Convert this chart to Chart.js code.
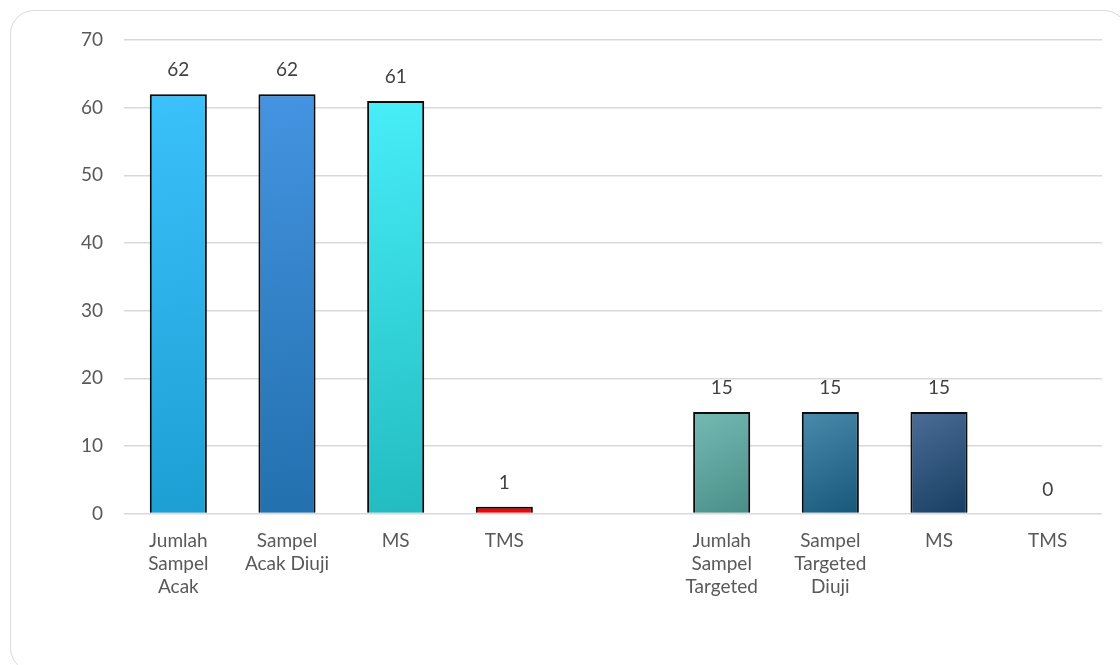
<!DOCTYPE html>
<html>
<head>
<meta charset="utf-8">
<script src="https://cdn.jsdelivr.net/npm/chart.js@4.4.1/dist/chart.umd.min.js"></script>
<style>
  html, body { margin: 0; padding: 0; background: #ffffff; overflow: hidden; }
  #wrap { position: relative; width: 1120px; height: 665px; }
  #frame { position: absolute; left: 10px; top: 10px; width: 1118px; height: 662px;
           border: 1.5px solid #d9d9d9; border-radius: 24px; box-sizing: border-box; }
  canvas { position: absolute; left: 0; top: 0; }
</style>
</head>
<body>
<div id="wrap">
  <div id="frame"></div>
  <canvas id="c" width="1120" height="665"></canvas>
</div>
<script>
const categories = [
  ['Jumlah', 'Sampel', 'Acak'],
  ['Sampel', 'Acak Diuji'],
  'MS',
  'TMS',
  '',
  ['Jumlah', 'Sampel', 'Targeted'],
  ['Sampel', 'Targeted', 'Diuji'],
  'MS',
  'TMS'
];
const values = [62, 62, 61, 1, null, 15, 15, 15, 0];
const yTicks = [0, 10, 20, 30, 40, 50, 60, 70];
const colorTop = ['#3bc1fb', '#4494e2', '#47edf8', '#ff0000', '#ffffff', '#74bab3', '#4a8aab', '#4b6c97', '#ffffff'];
const colorBottom = ['#1c9fd3', '#2270ad', '#22bcc0', '#ff0000', '#ffffff', '#4b8e89', '#17587a', '#173f62', '#ffffff'];

const FONT = 'Lato, "Open Sans", sans-serif';

const barEffects = {
  id: 'barEffects',
  beforeDatasetsDraw(chart) {
    const ctx = chart.ctx;
    ctx.save();
    ctx.shadowColor = 'rgba(0,0,0,0.28)';
    ctx.shadowBlur = 7;
    ctx.shadowOffsetX = 0;
    ctx.shadowOffsetY = 0;
  },
  afterDatasetsDraw(chart) {
    const ctx = chart.ctx;
    ctx.restore();
    ctx.save();
    ctx.fillStyle = '#404040';
    ctx.font = '19px ' + FONT;
    ctx.textAlign = 'center';
    ctx.textBaseline = 'middle';
    const meta = chart.getDatasetMeta(0);
    meta.data.forEach((bar, i) => {
      const v = values[i];
      if (v === null || v === undefined) return;
      ctx.fillText(String(v), bar.x, bar.y - 24);
    });
    ctx.restore();
  }
};

new Chart(document.getElementById('c'), {
  type: 'bar',
  data: {
    labels: categories,
    datasets: [{
      data: values,
      backgroundColor(context) {
        const chart = context.chart;
        const i = context.dataIndex;
        const v = context.raw;
        if (!chart.chartArea || !chart.scales.y || v === null) return colorTop[i];
        const yTop = chart.scales.y.getPixelForValue(v);
        const yBot = chart.scales.y.getPixelForValue(0);
        const xc = chart.scales.x.getPixelForValue(i);
        const g = chart.ctx.createLinearGradient(xc - 28, yTop, xc + 28, yBot);
        g.addColorStop(0, colorTop[i]);
        g.addColorStop(1, colorBottom[i]);
        return g;
      },
      borderColor: '#0d0d0d',
      borderWidth: 2,
      borderSkipped: 'start',
      categoryPercentage: 1,
      barPercentage: 0.525
    }]
  },
  options: {
    responsive: false,
    animation: false,
    layout: { padding: { left: 0, right: 18, top: 40, bottom: 51 } },
    plugins: { legend: { display: false }, tooltip: { enabled: false } },
    scales: {
      x: {
        grid: { display: false, drawTicks: false },
        border: { display: false },
        ticks: { color: '#595959', font: { family: FONT, size: 19 }, padding: 16, maxRotation: 0, autoSkip: false },
      },
      y: {
        min: 0, max: 70,
        afterFit(scale) { scale.width = 124; },
        afterBuildTicks(scale) { scale.ticks = yTicks.map(v => ({ value: v })); },
        grid: { color: '#d9d9d9', lineWidth: 1.5, drawTicks: false },
        border: { display: false },
        ticks: { color: '#595959', font: { family: FONT, size: 19 }, padding: 21 }
      }
    }
  },
  plugins: [barEffects]
});
</script>
</body>
</html>
